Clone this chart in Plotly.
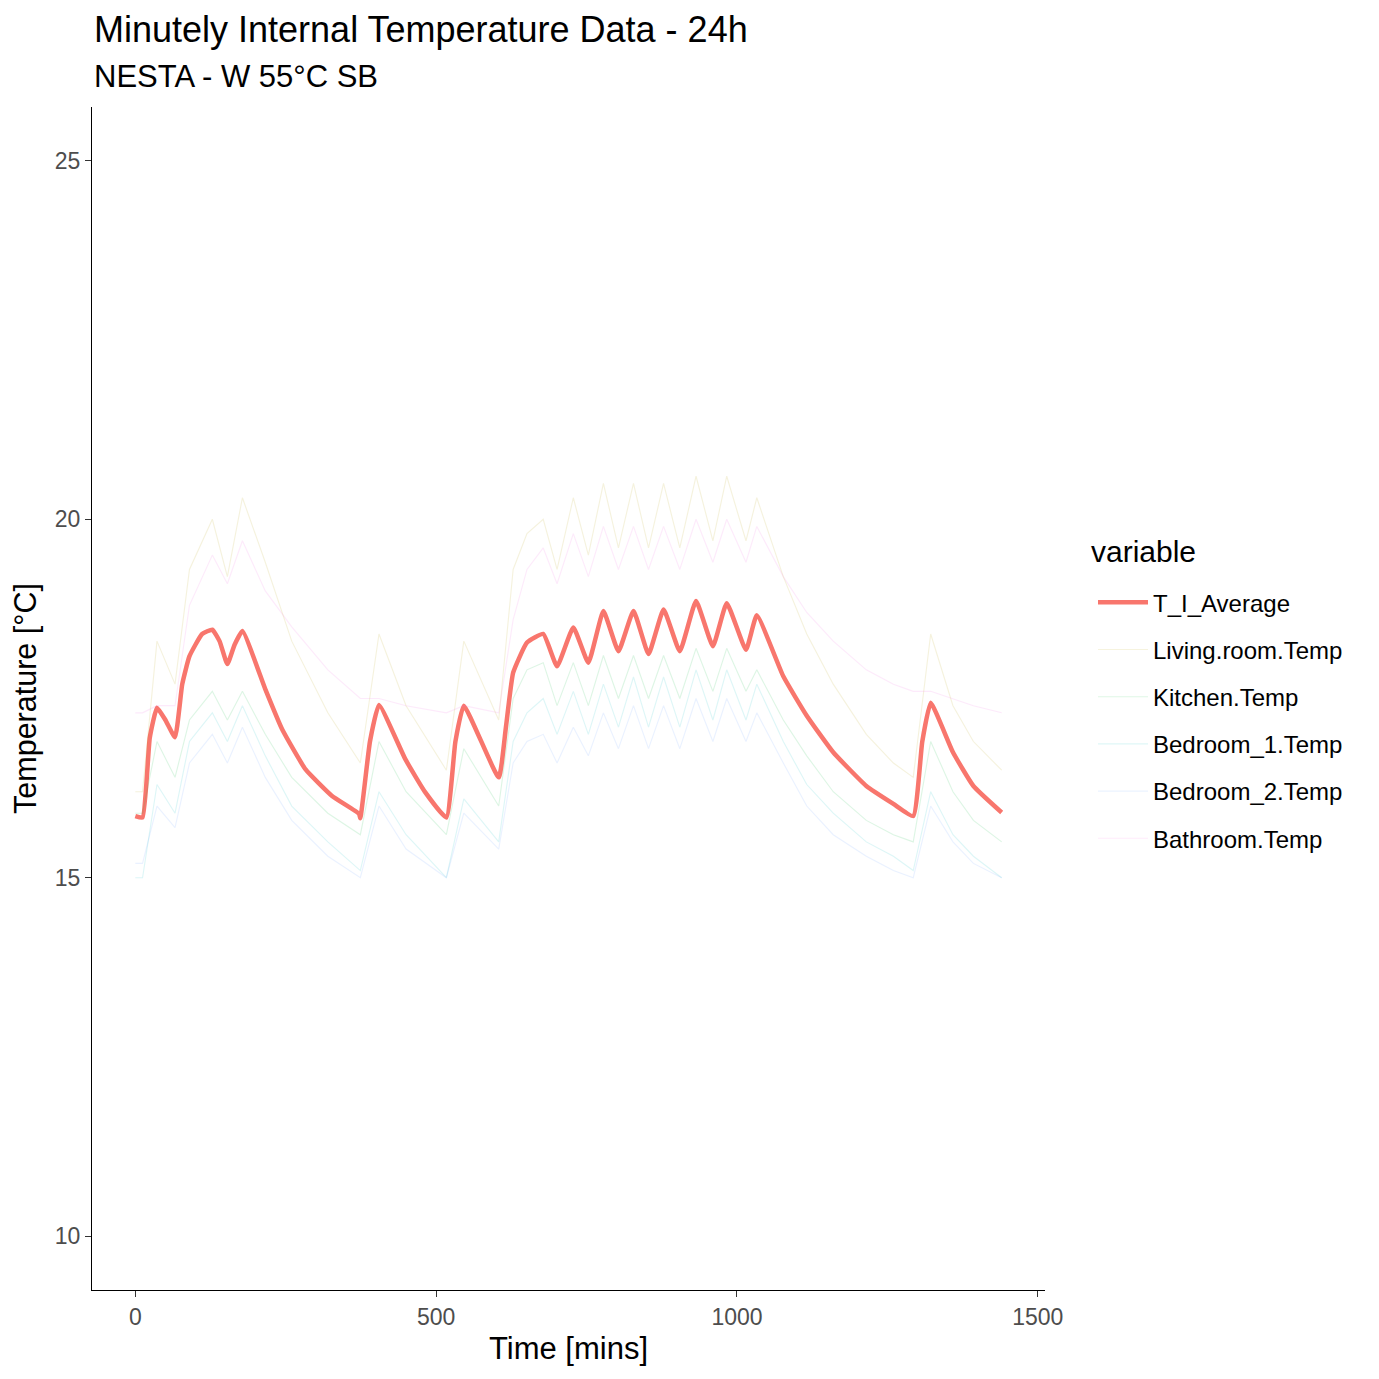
import plotly.graph_objects as go

# average of all rooms (thick red line)
avg_t = [0, 12, 24, 36, 50, 66, 78, 90, 111, 128, 140, 153, 165, 178, 216, 244, 283, 327, 372, 374,
         390, 405, 449, 482, 517, 532, 546, 604, 616, 628, 651, 678, 701, 728, 753, 778, 803, 828,
         853, 878, 905, 932, 960, 983, 1015, 1033, 1077, 1116, 1160, 1215, 1260, 1293, 1308, 1322,
         1359, 1393, 1440]
avg_v = [15.86, 15.84, 16.95, 17.37, 17.2, 16.96, 17.7, 18.09, 18.40, 18.46, 18.3, 17.98, 18.25, 18.44,
         17.63, 17.07, 16.51, 16.14, 15.89, 15.83, 16.9, 17.41, 16.65, 16.19, 15.84, 16.9, 17.40,
         16.40, 17.1, 17.86, 18.28, 18.40, 17.95, 18.49, 18.00, 18.72, 18.16, 18.72, 18.12, 18.74,
         18.16, 18.86, 18.23, 18.83, 18.18, 18.66, 17.81, 17.26, 16.75, 16.28, 16.03, 15.86, 16.9,
         17.44, 16.75, 16.28, 15.91]

# individual rooms (faint lines)
room_t = [0, 12, 36, 66, 90, 128, 153, 178, 216, 260, 320, 374, 405, 450, 517, 546, 604, 628, 651,
          678, 701, 728, 753, 778, 803, 828, 853, 878, 905, 932, 960, 983, 1015, 1033, 1077, 1116,
          1160, 1215, 1260, 1293, 1322, 1359, 1393, 1440]
living = [16.2, 16.2, 18.3, 17.7, 19.3, 20.0, 19.2, 20.3, 19.4, 18.3, 17.3, 16.6, 18.4, 17.4, 16.5,
          18.3, 17.2, 19.3, 19.8, 20.0, 19.3, 20.3, 19.5, 20.5, 19.6, 20.5, 19.6, 20.5, 19.6, 20.6,
          19.7, 20.6, 19.7, 20.3, 19.2, 18.4, 17.7, 17.0, 16.6, 16.4, 18.4, 17.4, 16.9, 16.5]
kitchen = [15.9, 15.9, 16.9, 16.4, 17.2, 17.6, 17.2, 17.6, 17.0, 16.4, 15.9, 15.6, 16.9, 16.2, 15.6,
           16.8, 16.0, 17.5, 17.9, 18.0, 17.4, 18.0, 17.4, 18.1, 17.5, 18.1, 17.5, 18.1, 17.5, 18.2,
           17.6, 18.2, 17.6, 17.9, 17.2, 16.7, 16.2, 15.8, 15.6, 15.5, 16.9, 16.2, 15.8, 15.5]
bed1 = [15.0, 15.0, 16.3, 15.9, 16.9, 17.3, 16.9, 17.4, 16.7, 16.0, 15.5, 15.1, 16.2, 15.6, 15.0,
        16.1, 15.5, 16.9, 17.3, 17.5, 17.0, 17.6, 17.0, 17.7, 17.1, 17.8, 17.1, 17.8, 17.1, 17.9,
        17.2, 17.9, 17.2, 17.7, 16.9, 16.3, 15.9, 15.5, 15.3, 15.1, 16.2, 15.6, 15.3, 15.0]
bed2 = [15.2, 15.2, 16.0, 15.7, 16.6, 17.0, 16.6, 17.1, 16.4, 15.8, 15.3, 15.0, 16.0, 15.4, 15.0,
        15.9, 15.4, 16.6, 16.9, 17.0, 16.6, 17.1, 16.7, 17.3, 16.8, 17.4, 16.8, 17.4, 16.8, 17.5,
        16.9, 17.5, 16.9, 17.3, 16.6, 16.0, 15.6, 15.3, 15.1, 15.0, 16.0, 15.5, 15.2, 15.0]
bath = [17.3, 17.3, 17.4, 17.4, 18.8, 19.5, 19.1, 19.7, 19.0, 18.5, 17.9, 17.5, 17.5, 17.4, 17.3,
        17.4, 17.3, 18.6, 19.3, 19.6, 19.1, 19.8, 19.2, 19.9, 19.3, 19.9, 19.3, 19.9, 19.3, 20.0,
        19.4, 20.0, 19.4, 19.9, 19.2, 18.7, 18.3, 17.9, 17.7, 17.6, 17.6, 17.5, 17.4, 17.3]

names = ["T_I_Average", "Living.room.Temp", "Kitchen.Temp", "Bedroom_1.Temp",
         "Bedroom_2.Temp", "Bathroom.Temp"]
rooms = [living, kitchen, bed1, bed2, bath]
colors = ["#F8766D", "#B79F00", "#00BA38", "#00BFC4", "#619CFF", "#F564E3"]

fig = go.Figure()

fig.add_trace(go.Scatter(
    x=avg_t, y=avg_v, mode="lines", name=names[0], legendgroup=names[0],
    line=dict(color=colors[0], width=4.5, shape="spline", smoothing=0.4),
))

for name, vals, col in zip(names[1:], rooms, colors[1:]):
    fig.add_trace(go.Scatter(
        x=room_t, y=vals, mode="lines", name=name, legendgroup=name,
        line=dict(color=col, width=1.1), opacity=0.13,
    ))

font = "Liberation Sans, Arial, sans-serif"

# page has an 8px body margin, so the margins are shifted by 8px
fig.update_layout(
    width=1379, height=1379,
    margin=dict(l=84, r=342, t=99, b=97),
    plot_bgcolor="white", paper_bgcolor="white",
    font=dict(family=font, color="black"),
    showlegend=True,
    legend=dict(
        font=dict(size=24), x=1 + 48 / 953, xanchor="left", y=0.600, yanchor="top",
        tracegroupgap=13, itemwidth=50, bgcolor="rgba(0,0,0,0)",
    ),
    annotations=[
        dict(text="Minutely Internal Temperature Data - 24h", xref="paper", yref="paper",
             x=0, y=(1290 - 30) / 1183, xanchor="left", yanchor="middle", showarrow=False,
             font=dict(size=36, color="black")),
        dict(text="NESTA - W 55°C SB", xref="paper", yref="paper",
             x=0, y=(1290 - 76) / 1183, xanchor="left", yanchor="middle", showarrow=False,
             font=dict(size=31, color="black")),
        dict(text="variable", xref="paper", yref="paper",
             x=(1089 - 92) / 953, y=(1290 - 551) / 1183, xanchor="left", yanchor="middle",
             showarrow=False, font=dict(size=30, color="black")),
    ],
)

fig.update_xaxes(
    range=[-72, 1512], tickvals=[0, 500, 1000, 1500], showgrid=False, zeroline=False,
    showline=True, linecolor="black", linewidth=1.3, ticks="outside", ticklen=6,
    tickcolor="#333333", tickfont=dict(size=23, color="#4D4D4D"), automargin=False,
    title=dict(text="Time [mins]", font=dict(size=31), standoff=8),
)
fig.update_yaxes(
    range=[9.25, 25.75], tickvals=[10, 15, 20, 25], showgrid=False, zeroline=False,
    showline=True, linecolor="black", linewidth=1.3, ticks="outside", ticklen=6,
    tickcolor="#333333", tickfont=dict(size=23, color="#4D4D4D"), automargin=False,
    title=dict(text="Temperature [°C]", font=dict(size=30.5), standoff=10),
)

fig.write_html("out.html")
